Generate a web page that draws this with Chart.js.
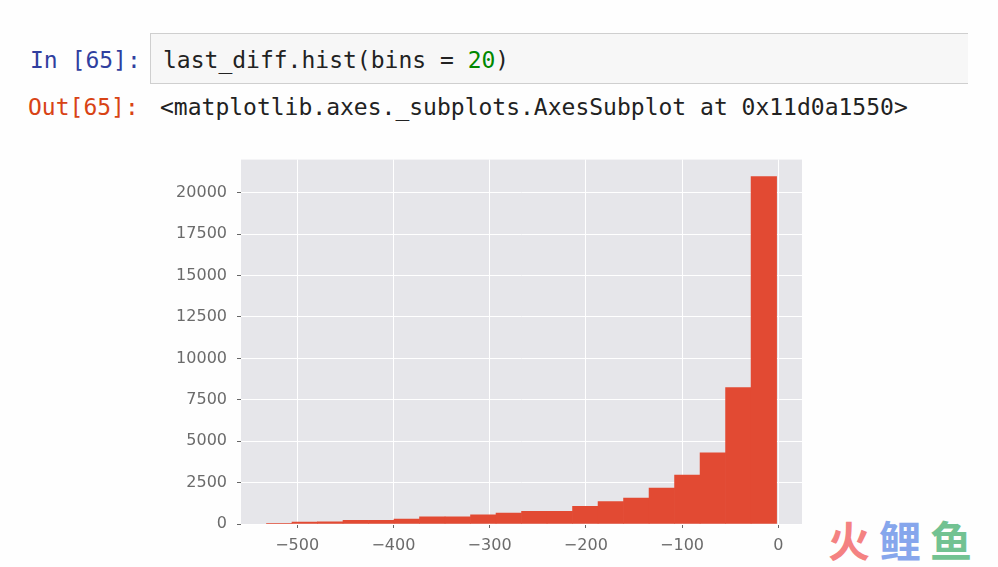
<!DOCTYPE html>
<html>
<head>
<meta charset="utf-8">
<script src="https://cdn.jsdelivr.net/npm/chart.js@4/dist/chart.umd.min.js"></script>
<style>
  html, body { margin:0; padding:0; background:#fefefe; }
  body { width:998px; height:567px; position:relative; overflow:hidden; font-family:"DejaVu Sans Mono", monospace; }
  .prompt { position:absolute; font-size:23px; line-height:28px; white-space:pre; }
  #inp { left:30px; top:46px; color:#303F9F; }
  #outp { left:28px; top:93px; color:#D84315; }
  #cell { position:absolute; left:150px; top:33px; width:818px; height:51px; background:#f7f7f7; border:1px solid #cfcfcf; border-right:none; box-sizing:border-box; }
  #code { position:absolute; left:163px; top:46px; font-size:23px; line-height:28px; color:#222; white-space:pre; }
  #code .num { color:#008800; }
  #outtxt { position:absolute; left:160px; top:93px; font-size:23px; line-height:28px; color:#222; white-space:pre; }
  #wrap { position:absolute; left:140px; top:140px; width:680px; height:427px; }
  #wm { position:absolute; left:828px; top:511px; font-family:"Noto Sans CJK SC", sans-serif; font-weight:700; font-size:42px; line-height:56px; letter-spacing:9px; white-space:pre; }
</style>
</head>
<body>
<div id="cell"></div>
<div class="prompt" id="inp">In [65]:</div>
<div id="code">last_diff.hist(bins = <span class="num">20</span>)</div>
<div class="prompt" id="outp">Out[65]:</div>
<div id="outtxt">&lt;matplotlib.axes._subplots.AxesSubplot at 0x11d0a1550&gt;</div>
<div id="wrap"><canvas id="c"></canvas></div>
<div id="wm"><span style="color:#f48282">火</span><span style="color:#86a6ec">鲤</span><span style="color:#72c292">鱼</span></div>
<script>
// Histogram bin edges (21 edges -> 20 bins)
const binEdges = [-531.8, -505.3, -478.8, -452.3, -425.8, -399.3, -372.8, -346.3, -319.8, -293.3,
                  -266.8, -240.3, -213.8, -187.3, -160.8, -134.3, -107.8, -81.3, -54.8, -28.3, -1.8];
// Counts per bin
const counts = [5, 115, 125, 215, 225, 290, 430, 440, 560, 660,
                760, 770, 1060, 1360, 1560, 2170, 2950, 4300, 8230, 20980];
// Axis ticks
const xTicks = [-500, -400, -300, -200, -100, 0];
const yTicks = [0, 2500, 5000, 7500, 10000, 12500, 15000, 17500, 20000];
const xLimits = [-558.3, 24.6];
const yLimits = [0, 22000];

const points = counts.map((c, i) => ({ x: (binEdges[i] + binEdges[i + 1]) / 2, y: c }));

const bgPlugin = {
  id: 'plotbg',
  beforeDraw(chart) {
    const a = chart.chartArea, ctx = chart.ctx;
    ctx.save();
    ctx.fillStyle = '#E6E6EA';
    ctx.fillRect(a.left, a.top, a.right - a.left, a.bottom - a.top);
    ctx.restore();
  }
};

const tickFont = { family: 'DejaVu Sans', size: 16 };
const fmt = v => (v < 0 ? '\u2212' + Math.abs(v) : String(v));

new Chart(document.getElementById('c'), {
  type: 'bar',
  data: {
    datasets: [{
      data: points,
      backgroundColor: '#E24A33',
      borderWidth: 0,
      barPercentage: 1,
      categoryPercentage: 1,
      grouped: false
    }]
  },
  options: {
    responsive: true,
    maintainAspectRatio: false,
    animation: false,
    layout: { padding: { top: 0, right: 18, left: 0, bottom: 0 } },
    plugins: { legend: { display: false }, tooltip: { enabled: false } },
    scales: {
      x: {
        type: 'linear',
        offset: false,
        min: xLimits[0], max: xLimits[1],
        afterBuildTicks: s => { s.ticks = xTicks.map(v => ({ value: v })); },
        afterFit: s => { s.height = 43; },
        grid: { offset: false, color: '#ffffff', lineWidth: 1, drawTicks: true, tickLength: 4, tickColor: '#666666' },
        border: { display: false },
        ticks: { color: '#6b6b6b', font: tickFont, padding: 8, maxRotation: 0, autoSkip: false, callback: v => fmt(v) }
      },
      y: {
        type: 'linear',
        min: yLimits[0], max: yLimits[1],
        afterBuildTicks: s => { s.ticks = yTicks.map(v => ({ value: v })); },
        afterFit: s => { s.width = 101; },
        grid: { color: '#ffffff', lineWidth: 1, drawTicks: true, tickLength: 4, tickColor: '#666666' },
        border: { display: false },
        ticks: { color: '#6b6b6b', font: tickFont, padding: 10, autoSkip: false, callback: v => fmt(v) }
      }
    }
  },
  plugins: [bgPlugin]
});
</script>
</body>
</html>
